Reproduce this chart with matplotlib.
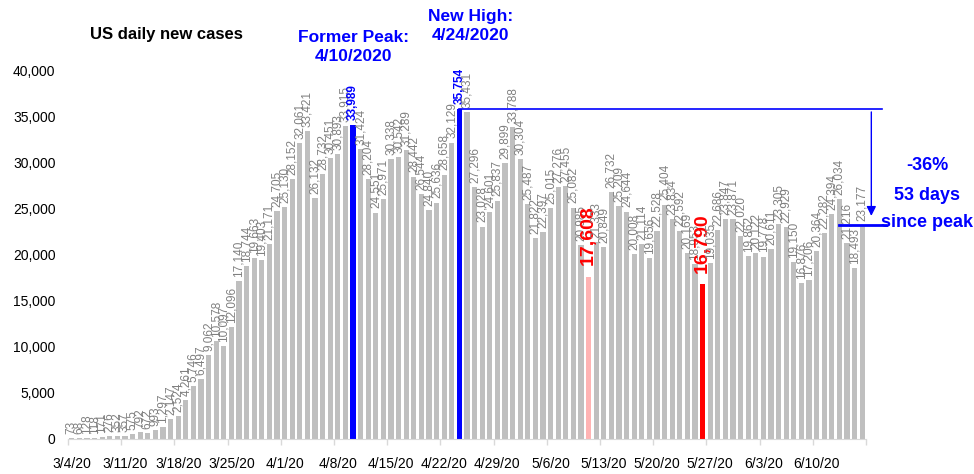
import numpy as np
import pandas as pd
import matplotlib
matplotlib.use("Agg")
import matplotlib.pyplot as plt
from matplotlib.transforms import blended_transform_factory

plt.rcParams['font.family'] = ['Liberation Sans', 'DejaVu Sans']

start_date = "2020-03-04"
new_cases = [
    73, 68, 128, 118, 171, 276, 352, 357, 575, 792,
    672, 993, 1297, 2147, 2524, 4261, 5746, 6497, 9062, 10578,
    10097, 12096, 17140, 18744, 19663, 19403, 21171, 24705, 25130, 28152,
    32061, 33421, 26132, 28732, 30451, 30893, 33915, 33989, 31424, 28204,
    24551, 25971, 30338, 30542, 31289, 28442, 26544, 24840, 25636, 28658,
    32129, 35754, 35431, 27296, 23028, 24601, 25837, 29899, 33788, 30304,
    25487, 21822, 22397, 25015, 27276, 27455, 25082, 20985, 17608, 21333,
    20849, 26732, 25209, 24644, 20008, 21114, 19656, 22528, 25404, 23834,
    22592, 20169, 18953, 16790, 19035, 22686, 23847, 23871, 22020, 19862,
    20122, 19778, 20611, 23305, 22929, 19150, 16876, 17206, 20364, 22282,
    24394, 26034, 21216, 18493, 23177,
]
former_peak_date = "2020-04-10"
new_high_date = "2020-04-24"
weekend_lows = ["2020-05-11", "2020-05-26"]
low_colors = ["#FFB3B3", "#FF0000"]
summary_lines = ["-36%", "53 days", "since peak"]

dates = pd.date_range(start_date, periods=len(new_cases))
n = len(new_cases)
x = np.arange(n)
i_former = dates.get_loc(pd.Timestamp(former_peak_date))
i_high = dates.get_loc(pd.Timestamp(new_high_date))
i_lows = [dates.get_loc(pd.Timestamp(d)) for d in weekend_lows]

colors = ["#BFBFBF"] * n
colors[i_former] = "#0000FF"
colors[i_high] = "#0000FF"
for i, c in zip(i_lows, low_colors):
    colors[i] = c

fig = plt.figure(figsize=(9.74, 4.74), dpi=100)
ax = fig.add_axes([68 / 974, 35 / 474, 798 / 974, 369 / 474])
ax.bar(x, new_cases, width=0.68, color=colors, zorder=2)
ax.set_xlim(-0.5, n - 0.5)
ax.set_ylim(0, 40000)

# y axis
ax.set_yticks(np.arange(0, 40001, 5000))
ax.set_yticklabels([f"{v:,}" for v in range(0, 40001, 5000)], fontsize=10)
ax.tick_params(axis='y', length=0, pad=9)

# x axis: labels on every 7th day, tick marks between categories
ax.set_xticks(x[::7])
ax.set_xticklabels([f"{d.month}/{d.day}/{d.strftime('%y')}" for d in dates[::7]], fontsize=10)
ax.set_xticks(np.arange(-0.5, n, 7), minor=True)
ax.tick_params(axis='x', which='major', length=0, pad=13)
ax.tick_params(axis='x', which='minor', length=4, color="#D9D9D9", width=1)

for s in ['left', 'right', 'top']:
    ax.spines[s].set_visible(False)
ax.spines['bottom'].set_color("#D9D9D9")

# data labels
for i, v in enumerate(new_cases):
    if i in (i_former, i_high):
        ax.annotate(f"{v:,}", (i, v), xytext=(0, 4), textcoords='offset points',
                    rotation=90, ha='center', va='bottom', fontsize=8.5,
                    color='#0000FF', fontweight='bold', annotation_clip=False)
    elif i in i_lows:
        ax.annotate(f"{v:,}", (i, v), xytext=(0, 8), textcoords='offset points',
                    rotation=90, ha='center', va='bottom', fontsize=14,
                    color='#FF0000', fontweight='bold', annotation_clip=False)
    else:
        ax.annotate(f"{v:,}", (i, v), xytext=(0, 3), textcoords='offset points',
                    rotation=90, ha='center', va='bottom', fontsize=8.5,
                    color='#808080', annotation_clip=False)

# title
fig.text(90 / 974, 1 - 35 / 474, "US daily new cases", fontsize=12,
         fontweight='bold', va='center', ha='left')

trans = blended_transform_factory(ax.transData, fig.transFigure)
ax.text(i_former, 1 - 47 / 474, "Former Peak:\n4/10/2020", transform=trans,
        ha='center', va='center', fontsize=12.5, fontweight='bold',
        color='#0000FF', linespacing=1.3)
ax.text(i_high + 1.5, 1 - 26 / 474, "New High:\n4/24/2020", transform=trans,
        ha='center', va='center', fontsize=12.5, fontweight='bold',
        color='#0000FF', linespacing=1.3)

# peak-to-now annotation
peak = new_cases[i_high]
last = new_cases[-1]
x_arrow = n + 0.2
ax.plot([i_high, n + 1.6], [peak, peak], color='#0000FF', lw=1.2, clip_on=False, zorder=3)
ax.annotate('', xy=(x_arrow, last + 700), xytext=(x_arrow, peak),
            arrowprops=dict(arrowstyle='-|>', color='#0000FF', lw=1, mutation_scale=14),
            annotation_clip=False)
ax.plot([n - 4.1, n + 2.1], [last, last], color='#0000FF', lw=2, clip_on=False, zorder=3)

fx = 927 / 974
for txt, yy in zip(summary_lines, [165, 196, 222]):
    fig.text(fx, 1 - yy / 474, txt, ha='center', va='center', fontsize=13,
             fontweight='bold', color='#0000FF')

fig.savefig("out.png", dpi=100)
